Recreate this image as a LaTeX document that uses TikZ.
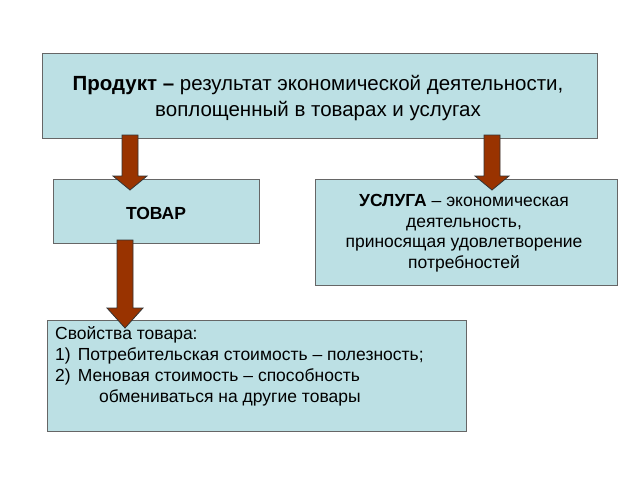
\documentclass[tikz,border=0pt]{standalone}
\usepackage{fontspec}
\setmainfont{Liberation Sans}
\definecolor{boxfill}{RGB}{188,224,228}
\definecolor{arr}{RGB}{153,51,0}
\tikzset{
  box/.style={draw=black!60, fill=boxfill, line width=0.8pt, inner sep=0pt},
  blockarrow/.style={fill=arr, draw=black!80, line width=0.8pt, line join=miter}
}
\begin{document}
\begin{tikzpicture}[x=1pt,y=-1pt]
\useasboundingbox (0,0) rectangle (640,480);
\fill[white] (0,0) rectangle (640,480);
% boxes
\draw[box] (42,53) rectangle (597,138);
\node[align=center, font=\fontsize{20.5}{26}\selectfont] (top) at (318,98) {\textbf{Продукт –} результат экономической деятельности,\\воплощенный в товарах и услугах};
\draw[box] (53,179) rectangle (259,243);
\node[font=\fontsize{17.5}{21}\selectfont\bfseries] (tovar) at (156,213) {ТОВАР};
\draw[box] (315,179) rectangle (617,285);
\node[align=center, font=\fontsize{17.5}{20.5}\selectfont] (usl) at (464,233) {\textbf{УСЛУГА} – экономическая\\деятельность,\\приносящая удовлетворение\\потребностей};
\draw[box] (47,320) rectangle (466,431);
\node[anchor=north west, align=left, font=\fontsize{17.5}{21}\selectfont, inner sep=0pt] (prop) at (55,326) {Свойства товара:\\1)\hspace{7pt}Потребительская стоимость – полезность;\\2)\hspace{7pt}Меновая стоимость – способность\\\hspace{44pt}обмениваться на другие товары};
% arrows
\draw[blockarrow] (122,135) -- (138,135) -- (138,176) -- (147,176) -- (130,190) -- (113,176) -- (122,176) -- cycle;
\draw[blockarrow] (484,135) -- (500,135) -- (500,176) -- (509,176) -- (492,190) -- (475,176) -- (484,176) -- cycle;
\draw[blockarrow] (117,240) -- (133,240) -- (133,308) -- (143,308) -- (125,328) -- (107,308) -- (117,308) -- cycle;
\end{tikzpicture}
\end{document}
